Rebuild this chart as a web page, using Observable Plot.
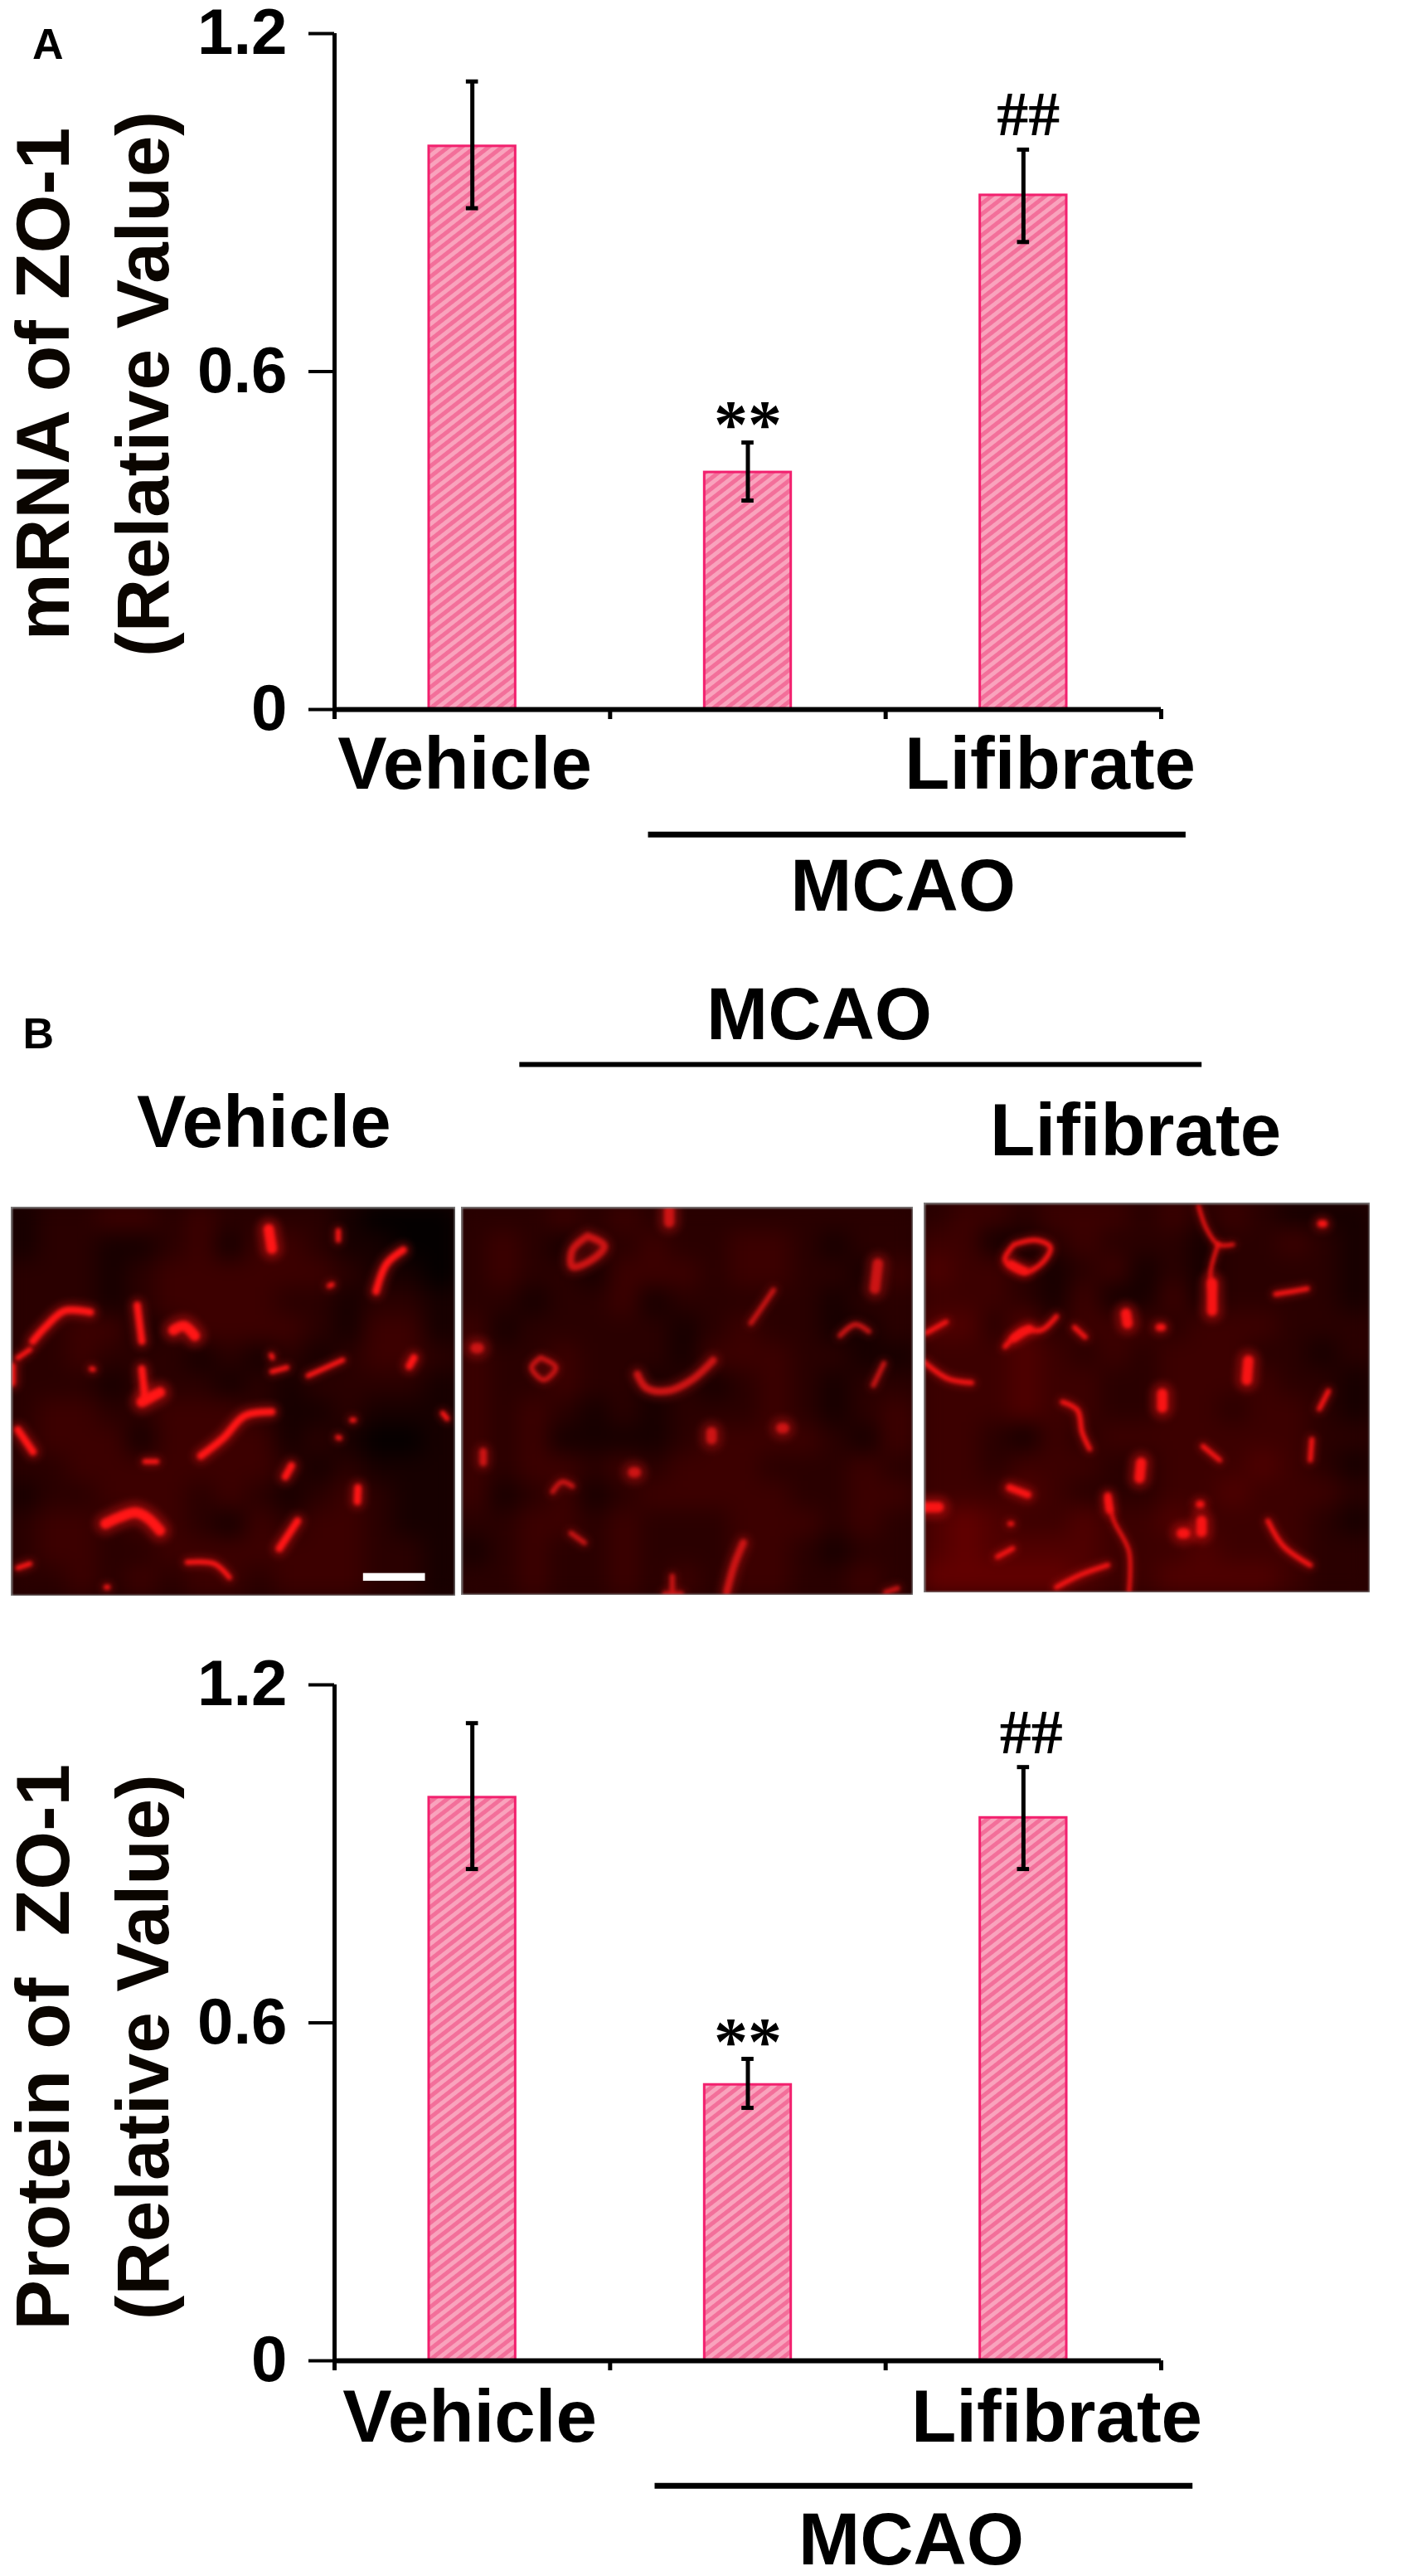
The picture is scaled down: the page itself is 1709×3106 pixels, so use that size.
<!DOCTYPE html>
<html><head><meta charset="utf-8">
<script src="https://cdn.jsdelivr.net/npm/d3@7"></script>
<script src="https://cdn.jsdelivr.net/npm/@observablehq/plot@0.6"></script>
<style>
html,body{margin:0;padding:0;background:#fff;}
#page{position:relative;width:1709px;height:3106px;overflow:hidden;background:#fff;}
</style></head><body><div id="page"></div>
<script>
// ---- chart data ----
const barCenters = [0.5, 1.5, 2.5];
const axisXTicks = [0, 1, 2, 3];
const axisYTicks = [0, 0.6, 1.2];
const mrnaValues = [1.0, 0.421, 0.913];
const mrnaLow = [0.89, 0.371, 0.83];
const mrnaHigh = [1.115, 0.474, 0.994];
const proteinValues = [1.0, 0.49, 0.964];
const proteinLow = [0.873, 0.449, 0.873];
const proteinHigh = [1.132, 0.536, 1.054];
const tickLabels = {0: "0", 0.6: "0.6", 1.2: "1.2"};

// ---- micrographs: background brightness read per coarse cell (digit 0-5) ----
const p1Cells = ["122332322221000","122112313321100","222123333332110","222123333221221","223312333321331","223222121212332","222122212122221","233223332112111","233313333121001","223333333212111","122333232123211","233233213233211","233223333333221","223232332333221"];
const p2Cells = ["222323222222222","232122322332122","232213332332213","221223122222122","312222212322112","322322213332211","322322121232122","323212122232123","323111123333213","323323233322232","312312333332233","223323222333232","123223222332122","223223232332232"];
const p3Cells = ["233233323232111","331123222122321","433212312122221","333213113122221","442423332333222","333432323332212","333433223333221","333433223323321","332132333333322","332333223334321","333432223343332","454334334333321","454444333433322","555554334444322"];

// ---- micrograph vessels, polylines read in crop units ----
const p1Thick = [
 [[350,1190],[400,1165],[450,1150],[490,1170],[530,1215]],[[575,490],[610,475],[645,510]],[[470,750],[530,715]],[[890,125],[900,195]]
];
const p1Medium = [
 [[300,425],[215,420],[150,480],[110,530]],[[60,850],[110,930]],[[665,945],[740,880],[810,800],[900,785]],[[945,1020],[965,980]],[[1185,1060],[1183,1110]],[[1355,620],[1370,590]],[[925,1280],[985,1180]],[[1335,200],[1280,250],[1245,350]],[[455,400],[470,530]],[[470,630],[480,730]],[[40,620],[40,680]]
];
const p1Thin = [
 [[1020,655],[1135,598]],[[620,1330],[710,1335],[760,1385]],[[60,590],[100,560]],[[1120,130],[1120,165]],[[1090,330],[1100,325]],[[1165,815],[1172,815]],[[1118,878],[1125,880]],[[1465,790],[1480,810]],[[303,630],[310,632]],[[352,1420],[358,1420]],[[898,580],[902,590]],[[900,640],[950,625]],[[60,1350],[100,1335]],[[480,965],[520,965]]
];
const p2Thick = [
 [[705,55],[705,100]],[[1395,250],[1385,340]],[[65,555],[75,555]],[[845,860],[845,885]],[[1076,845],[1084,845]],[[586,1005],[594,1005]]
];
const p2Medium = [
 [[600,650],[630,700],[700,710],[780,670],[850,600]],[[90,930],[90,970]],[[950,1260],[920,1340],[895,1440]],[[435,150],[490,185],[450,235],[385,260],[385,200],[435,150]]
];
const p2Thin = [
 [[1050,345],[1010,410],[975,465]],[[1270,510],[1320,470],[1365,495]],[[280,590],[330,625],[290,670],[250,625],[280,590]],[[1415,610],[1380,690]],[[320,1075],[350,1040],[385,1055]],[[380,1225],[425,1260]],[[715,1380],[715,1445]],[[690,1445],[745,1445]],[[1420,1440],[1460,1425]]
];
const p3Thick = [
 [[1085,600],[1080,670]],[[800,720],[800,770]],[[730,970],[725,1025]],[[10,1130],[60,1130]],[[930,1180],[930,1220]],[[865,1225],[875,1225]],[[965,320],[965,420]],[[680,430],[685,465]]
];
const p3Medium = [
 [[295,1060],[355,1085]],[[310,520],[360,485]],[[620,1090],[625,1140]],[[1325,105],[1335,105]],[[790,480],[800,480]],[[300,250],[345,275]],[[923,1120],[928,1120]]
];
const p3Thin = [
 [[310,180],[385,165],[430,190],[400,250],[340,280],[280,235],[310,180]],[[1175,360],[1230,350],[1280,340]],[[510,480],[545,515]],[[280,550],[340,490],[400,490],[450,440]],[[20,500],[85,460]],[[12,605],[90,665],[170,680]],[[1350,710],[1320,775]],[[470,750],[520,780],[535,860],[560,920]],[[935,910],[990,960]],[[1295,885],[1290,960]],[[1150,1180],[1200,1270],[1290,1340]],[[255,1310],[305,1280]],[[450,1420],[530,1375],[620,1340]],[[296,1190],[302,1190]]
];
const p3Fine = [
 [[920,40],[945,120],[985,180],[1035,180]],[[985,180],[960,280],[965,340]],[[620,1100],[640,1180],[690,1290],[690,1440]]
];
const scaleBar = [[1203, 1408, 1370, 1398]];

// ---- page helpers ----
const page = document.getElementById("page");
const sans = "Liberation Sans, Arial, sans-serif";
const serif = "Liberation Serif, Times New Roman, serif";
function place(node, top, left = 0){ node.style.position = "absolute"; node.style.top = top + "px"; node.style.left = left + "px"; node.style.margin = 0; page.appendChild(node); }

function hatchDefs(){
  return () => {
    const defs = d3.create("svg:defs");
    const p = defs.append("pattern").attr("id","hatch").attr("patternUnits","userSpaceOnUse")
      .attr("width",10).attr("height",10).attr("patternTransform","rotate(-38)");
    p.append("rect").attr("width",10).attr("height",10).attr("fill","#f9a3bd");
    p.append("rect").attr("width",10).attr("height",5).attr("fill","#f36f9a");
    return defs.node();
  };
}

function barChart(cfg){
  const rows = barCenters.map((c,i)=>({c, v:cfg.values[i], lo:cfg.low[i], hi:cfg.high[i]}));
  const half = 0.157, cap = 0.022;
  return Plot.plot({
    width:1709, height:1115, marginLeft:403, marginRight:309, marginTop:40, marginBottom:260,
    style:{background:"transparent", color:"#000", overflow:"visible"},
    x:{domain:[0,3]}, y:{domain:[0,1.2]},
    marks:[
      hatchDefs(),
      Plot.rectY(rows,{x1:d=>d.c-half,x2:d=>d.c+half,y1:0,y2:"v",fill:"url(#hatch)",stroke:"#f2206e",strokeWidth:3}),
      Plot.ruleX(rows,{x:"c",y1:"lo",y2:"hi",stroke:"#000",strokeWidth:5}),
      Plot.ruleY(rows,{y:"hi",x1:d=>d.c-cap,x2:d=>d.c+cap,stroke:"#000",strokeWidth:5}),
      Plot.ruleY(rows,{y:"lo",x1:d=>d.c-cap,x2:d=>d.c+cap,stroke:"#000",strokeWidth:5}),
      Plot.ruleX([0],{y1:0,y2:1.2,strokeWidth:5,stroke:"#000"}),
      Plot.ruleY([0],{x1:0,x2:3,strokeWidth:6,stroke:"#000"}),
      Plot.axisY({ticks:axisYTicks,tickSize:31,tickPadding:26,strokeWidth:4,stroke:"#000",label:null,
        tickFormat:d=>tickLabels[d],fontSize:78,fontWeight:"bold",fontFamily:sans,fill:"#000"}),
      Plot.axisX({ticks:axisXTicks,tickSize:12,strokeWidth:5,stroke:"#000",label:null,tickFormat:()=>""}),
      Plot.text([cfg.title1],{x:-1.051,y:cfg.titleY,text:d=>d,rotate:-90,fontSize:91,fontWeight:"bold",fontFamily:sans,fill:"#0a0500"}),
      Plot.text(["(Relative Value)"],{x:-0.69,y:cfg.titleY,text:d=>d,rotate:-90,fontSize:89,fontWeight:"bold",fontFamily:sans,fill:"#0a0500"}),
      Plot.text(["Vehicle"],{x:cfg.vehX,y:cfg.labY,text:d=>d,fontSize:89,fontWeight:"bold",fontFamily:sans,fill:"#000"}),
      Plot.text(["Lifibrate"],{x:cfg.lifX,y:cfg.labY,text:d=>d,fontSize:89,fontWeight:"bold",fontFamily:sans,fill:"#000"}),
      Plot.text(["MCAO"],{x:cfg.mcaoX,y:cfg.mcaoY,text:d=>d,fontSize:89,fontWeight:"bold",fontFamily:sans,fill:"#000"}),
      Plot.ruleY([-0.222],{x1:cfg.lineX[0],x2:cfg.lineX[1],strokeWidth:7,stroke:"#000"}),
      Plot.text(["**"],{x:barCenters[1],y:cfg.starY,text:d=>d,fontSize:82,fontWeight:"bold",fontFamily:serif,fill:"#000"}),
      Plot.text(["##"],{x:cfg.hashX,y:cfg.hashY,text:d=>d,fontSize:76,fontWeight:"bold",fontFamily:serif,fill:"#000"}),
      Plot.text(cfg.panel,{x:-1.04,y:1.18,text:d=>d,fontSize:52,fontWeight:"bold",fontFamily:sans,fill:"#000"})
    ]
  });
}

place(barChart({values:mrnaValues,low:mrnaLow,high:mrnaHigh,title1:"mRNA of ZO-1",titleY:0.578,
  vehX:0.473,lifX:2.597,mcaoX:2.063,labY:-0.098,mcaoY:-0.315,lineX:[1.139,3.09],
  starY:0.505,hashX:2.518,hashY:1.055,panel:["A"]}),0);

// header of panel B
const headerTexts = [["MCAO",1.759,74],["Vehicle",-0.256,204],["Lifibrate",2.907,214]];
const header = Plot.plot({
  width:1709,height:270,marginLeft:403,marginRight:309,marginTop:0,marginBottom:0,
  style:{background:"transparent",color:"#000"},
  x:{domain:[0,3],axis:null},y:{domain:[0,270],reverse:true,axis:null},
  marks:[
    Plot.text(headerTexts,{x:d=>d[1],y:d=>d[2],text:d=>d[0],fontSize:89,fontWeight:"bold",fontFamily:sans,fill:"#000"}),
    Plot.ruleY([133],{x1:0.672,x2:3.148,strokeWidth:6,stroke:"#000"}),
    Plot.text(["B"],{x:-1.075,y:97,text:d=>d,fontSize:52,fontWeight:"bold",fontFamily:sans,fill:"#000"})
  ]
});
place(header,1150);

// micrographs: one framed plot per panel so that the blur stays inside it
function micro({left,top,w,h,xd,yd,cells,base,colour,thick,medium,thin,fine=[],bar=[]}){
  const cw = (xd[1]-xd[0])/15, ch = (yd[1]-yd[0])/14;
  const cellData = cells.flatMap((row,r)=>[...row].map((v,c)=>({c,r,v:+v})));
  const lines = (set,opt) => set.map(pts => Plot.line(pts,{x:d=>d[0],y:d=>d[1],curve:"catmull-rom",strokeLinecap:"round",strokeLinejoin:"round",stroke:colour,clip:"frame",...opt}));
  const layered = (set,w) => [
    ...lines(set,{strokeWidth:w*2.2,strokeOpacity:0.35,imageFilter:"blur(5px)"}),
    ...lines(set,{strokeWidth:w,imageFilter:"blur(2px)"})
  ];
  place(Plot.plot({
    width:w,height:h,margin:0,
    style:{background:base},
    x:{domain:xd,axis:null},y:{domain:yd,reverse:true,axis:null},
    color:{type:"linear",domain:[0,5],range:["#040000","#620000"]},
    marks:[
      Plot.rect(cellData,{x1:d=>xd[0]+d.c*cw-10,x2:d=>xd[0]+(d.c+1)*cw+10,y1:d=>yd[0]+d.r*ch-10,y2:d=>yd[0]+(d.r+1)*ch+10,fill:"v",clip:"frame",imageFilter:"blur(13px)"}),
      ...layered(fine,4),
      ...layered(thin,5.5),
      ...layered(medium,8.5),
      ...layered(thick,12.5),
      Plot.frame({stroke:"#8a8a8a",strokeWidth:3,imageFilter:"blur(0.8px)"}),
      Plot.rect(bar,{x1:d=>d[0],x2:d=>d[1],y1:d=>d[2],y2:d=>d[3],fill:"#fff"})
    ]
  }),top,left);
}
micro({left:13,top:1455,w:536,h:469,xd:[38,1508],yd:[45,1452],cells:p1Cells,base:"#1e0000",colour:"#ff1616",thick:p1Thick,medium:p1Medium,thin:p1Thin,bar:scaleBar});
micro({left:556,top:1455,w:545,h:468,xd:[18,1512],yd:[45,1450],cells:p2Cells,base:"#240000",colour:"#cc1414",thick:p2Thick,medium:p2Medium,thin:p2Thin});
micro({left:1114,top:1450,w:538,h:470,xd:[12,1488],yd:[30,1440],cells:p3Cells,base:"#280000",colour:"#f81414",thick:p3Thick,medium:p3Medium,thin:p3Thin,fine:p3Fine});

place(barChart({values:proteinValues,low:proteinLow,high:proteinHigh,title1:"Protein of  ZO-1",titleY:0.557,
  vehX:0.491,lifX:2.621,mcaoX:2.093,labY:-0.101,mcaoY:-0.319,lineX:[1.163,3.115],
  starY:0.565,hashX:2.528,hashY:1.115,panel:[]}),1991);
</script></body></html>
